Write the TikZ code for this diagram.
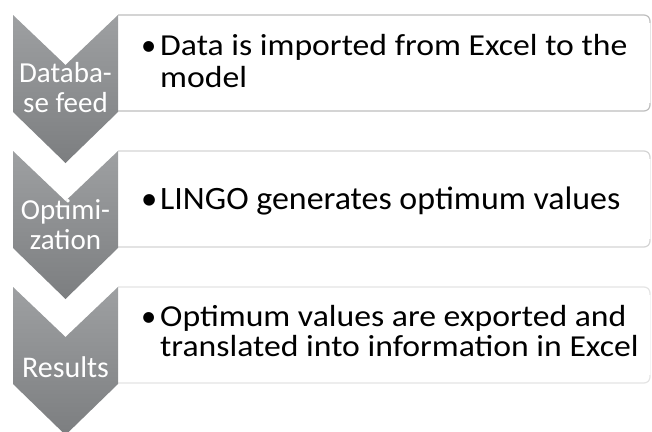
\documentclass[tikz,border=0pt]{standalone}
\usepackage{fontspec}
\usepackage{graphicx}
\setmainfont{Carlito}
\definecolor{chevtop}{RGB}{158,160,162}
\definecolor{chevbot}{RGB}{124,126,128}
\definecolor{bordA}{RGB}{190,190,190}
\definecolor{bordB}{RGB}{212,212,212}
\definecolor{bordC}{RGB}{228,228,228}
\definecolor{txt}{RGB}{0,0,0}
\newcommand{\bul}{\makebox[19pt][l]{•}}
\newcommand{\wide}[1]{\scalebox{1.105}[1]{#1}}
\newcommand{\wider}[1]{\scalebox{1.04}[1]{#1}}
\tikzset{
  chevtext/.style={inner sep=0pt, anchor=base, text=white, font=\fontsize{29}{30}\selectfont},
  boxtext/.style={inner sep=0pt, anchor=base west, text=txt, font=\fontsize{30.5}{31}\selectfont},
  boxtextL/.style={boxtext, font=\fontsize{32.6}{33}\selectfont},
  chevtextL/.style={chevtext, font=\fontsize{30}{31}\selectfont},
}
\begin{document}
\begin{tikzpicture}[x=1pt,y=1pt]
\useasboundingbox (0,0) rectangle (652,-431);
\fill[white] (0,0) rectangle (652,-431);
% boxes
\foreach \T/\c in {15/bordA,151/bordB,287/bordC}{
  \fill[white] (118,-\T) rectangle (650,-\T-96);
  \draw[\c, line width=1.2pt, rounded corners=6pt] (118,-\T) -- (650,-\T) -- (650,-\T-96) -- (118,-\T-96);
  \draw[white, line width=1.6pt] (650,-\T-8) -- (650,-\T-88);
  \draw[\c!40, line width=0.8pt] (650,-\T-8) -- (650,-\T-88);
}
% chevrons
\foreach \T in {15,151,287}{
  \shade[top color=chevtop, bottom color=chevbot]
    (13,-\T) -- (65.5,-\T-50) -- (118,-\T) -- (118,-\T-97) -- (65.5,-\T-148) -- (13,-\T-97) -- cycle;
}
% chevron labels
\node[chevtext] (c1a) at (65.5,-82) {Databa-};
\node[chevtext] (c1b) at (65.5,-112) {se feed};
\node[chevtext] (c2a) at (65.5,-219) {Optimi-};
\node[chevtext] (c2b) at (65.5,-249) {zation};
\node[chevtextL] (c3a) at (65.5,-377) {Results};
% box texts
\node[boxtext] (t1a) at (141,-55) {\bul\wide{Data is imported from Excel to the}};
\node[boxtext] (t1b) at (160,-87) {\wide{model}};
\node[boxtextL] (t2a) at (141,-209) {\bul\wider{LINGO generates optimum values}};
\node[boxtext] (t3a) at (141,-326) {\bul\wide{Optimum values are exported and}};
\node[boxtext] (t3b) at (160,-356) {\wide{translated into information in Excel}};
\end{tikzpicture}
\end{document}
